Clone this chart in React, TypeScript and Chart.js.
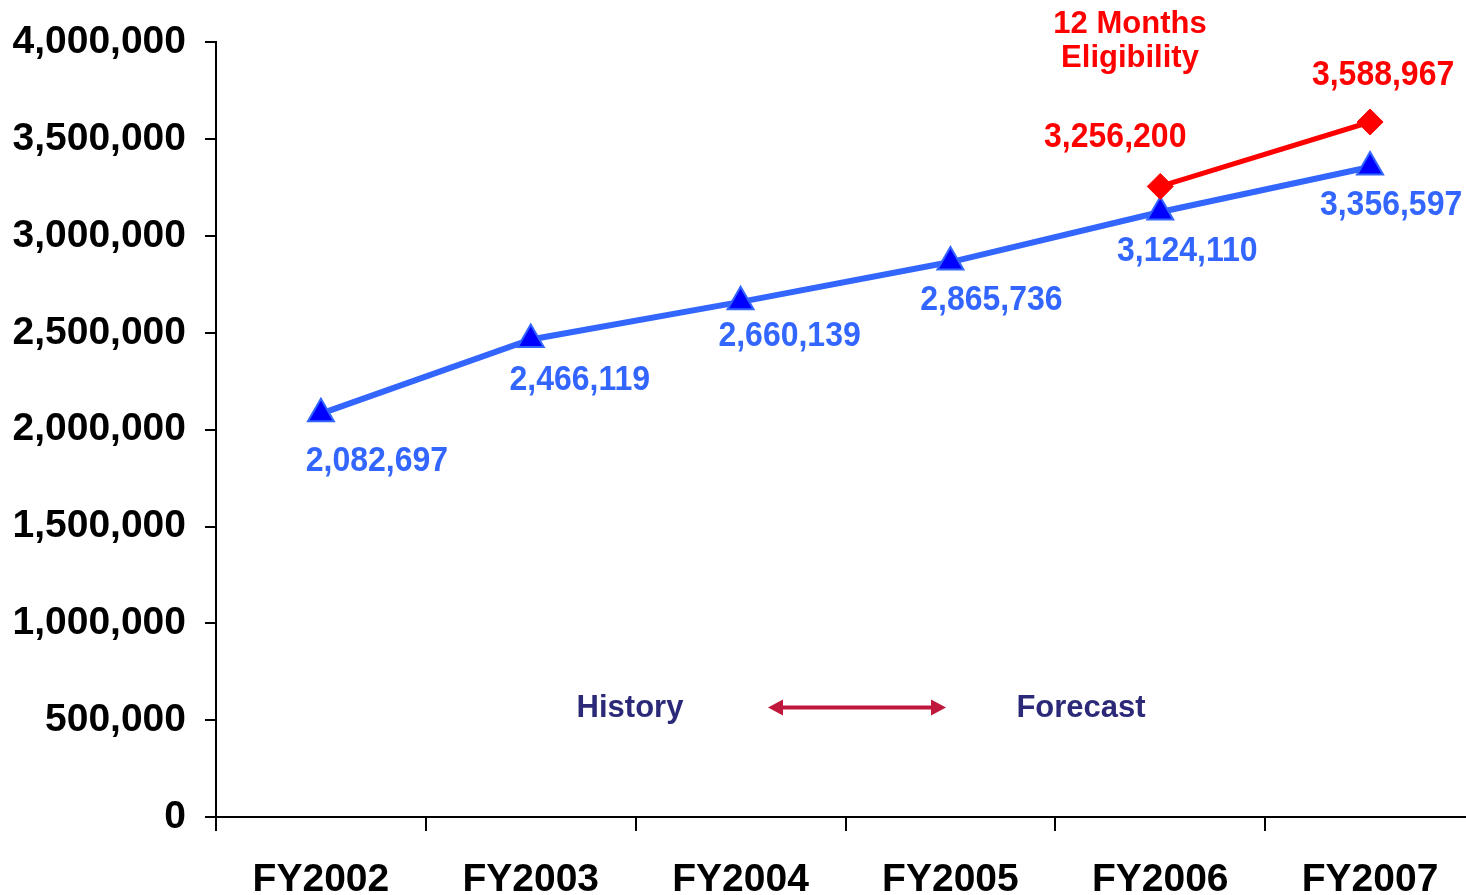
import React, { useEffect, useRef } from "react";
import { Chart, registerables } from "chart.js";

Chart.register(...registerables);

const categories = ["FY2002", "FY2003", "FY2004", "FY2005", "FY2006", "FY2007"];
const currentEligibility = [2082697, 2466119, 2660139, 2865736, 3124110, 3356597];
const twelveMonthEligibility = [null, null, null, null, 3256200, 3588967];
const yMin = 0;
const yMax = 4000000;
const yStep = 500000;

const annotationTitle = ["12 Months", "Eligibility"];
const historyLabel = "History";
const forecastLabel = "Forecast";

// label offsets (style, in pixels relative to each point)
const blueLabelOffsets = [
  [56, 48],
  [49, 41],
  [49, 35],
  [41, 38],
  [27, 39],
  [21, 38],
];
const redLabelOffsets = [
  [0, 0],
  [0, 0],
  [0, 0],
  [0, 0],
  [-45, -49],
  [13, -47],
];

const FONT = "'Liberation Sans', Arial, Helvetica, sans-serif";

const fmt = (v: number) => v.toLocaleString("en-US");

const labelPlugin = {
  id: "pointLabels",
  afterDatasetsDraw(chart: any) {
    const ctx = chart.ctx;
    chart.data.datasets.forEach((ds: any, di: number) => {
      const meta = chart.getDatasetMeta(di);
      const isRed = ds.label === "12 Months";
      const offsets = isRed ? redLabelOffsets : blueLabelOffsets;
      meta.data.forEach((pt: any, i: number) => {
        const v = ds.data[i];
        if (v === null || v === undefined) return;
        const [dx, dy] = offsets[i];
        ctx.save();
        ctx.font = `bold 32px ${FONT}`;
        ctx.textAlign = "center";
        ctx.textBaseline = "middle";
        ctx.fillStyle = isRed ? "#ff0000" : "#3366ff";
        ctx.translate(pt.x + dx, pt.y + dy);
        ctx.scale(1, 1.08);
        ctx.fillText(fmt(v), 0, 0);
        ctx.restore();
      });
    });
  },
};

const annotationPlugin = {
  id: "annotations",
  afterDraw(chart: any) {
    const ctx = chart.ctx;
    const area = chart.chartArea;
    ctx.save();
    ctx.textAlign = "center";
    ctx.textBaseline = "middle";
    ctx.font = `bold 31px ${FONT}`;
    ctx.fillStyle = "#ff0000";
    ctx.fillText(annotationTitle[0], 1130, 24);
    ctx.fillText(annotationTitle[1], 1130, 58);

    ctx.fillStyle = "#2c2a78";
    const y = area.top + 665;
    ctx.fillText(historyLabel, 630, y + 1);
    ctx.fillText(forecastLabel, 1081, y + 1);

    // double arrow
    const x1 = 768;
    const x2 = 946;
    ctx.strokeStyle = "#c0173c";
    ctx.fillStyle = "#c0173c";
    ctx.lineWidth = 4;
    ctx.beginPath();
    ctx.moveTo(x1 + 10, y);
    ctx.lineTo(x2 - 10, y);
    ctx.stroke();
    ctx.beginPath();
    ctx.moveTo(x1, y);
    ctx.lineTo(x1 + 15, y - 8);
    ctx.lineTo(x1 + 15, y + 8);
    ctx.closePath();
    ctx.fill();
    ctx.beginPath();
    ctx.moveTo(x2, y);
    ctx.lineTo(x2 - 15, y - 8);
    ctx.lineTo(x2 - 15, y + 8);
    ctx.closePath();
    ctx.fill();
    ctx.restore();
  },
};

export default function App() {
  const canvasRef = useRef<HTMLCanvasElement | null>(null);

  useEffect(() => {
    const canvas = canvasRef.current;
    if (!canvas) return;
    const chart = new Chart(canvas, {
      type: "line",
      data: {
        labels: categories,
        datasets: [
          {
            label: "12 Months",
            data: twelveMonthEligibility,
            borderColor: "#ff0000",
            backgroundColor: "#ff0000",
            borderWidth: 5,
            pointStyle: "rectRot",
            pointRadius: 13,
            pointBackgroundColor: "#ff0000",
            pointBorderColor: "#ff0000",
            pointBorderWidth: 1,
            spanGaps: false,
            order: 0,
          },
          {
            label: "Current",
            data: currentEligibility,
            borderColor: "#3366ff",
            backgroundColor: "#3366ff",
            borderWidth: 6,
            pointStyle: "triangle",
            pointRadius: 15,
            pointBackgroundColor: "#0000ff",
            pointBorderColor: "#3366ff",
            pointBorderWidth: 2,
            order: 1,
          },
        ],
      },
      options: {
        responsive: false,
        animation: false,
        events: [],
        layout: { padding: { top: 42, left: 0, right: 0, bottom: 0 } },
        plugins: {
          legend: { display: false },
          tooltip: { enabled: false },
          title: { display: false },
        },
        scales: {
          x: {
            type: "category",
            offset: true,
            grid: {
              offset: true,
              drawOnChartArea: false,
              drawTicks: true,
              tickLength: 14,
              color: "#000000",
              lineWidth: 2,
            },
            border: { display: true, color: "#000000", width: 2 },
            ticks: {
              color: "#000000",
              font: { family: FONT, size: 39, weight: "bold" },
              padding: 26,
              maxRotation: 0,
              autoSkip: false,
            },
            afterFit: (scale: any) => {
              scale.height = 78;
            },
          },
          y: {
            min: yMin,
            max: yMax,
            grid: {
              drawOnChartArea: false,
              drawTicks: true,
              tickLength: 11,
              color: "#000000",
              lineWidth: 2,
            },
            border: { display: true, color: "#000000", width: 2 },
            ticks: {
              stepSize: yStep,
              color: "#000000",
              font: { family: FONT, size: 39, weight: "bold" },
              padding: 19,
              callback: (v: any) => fmt(Number(v)),
            },
            afterFit: (scale: any) => {
              scale.width = 216;
            },
          },
        },
      },
      plugins: [labelPlugin, annotationPlugin],
    });
    return () => chart.destroy();
  }, []);

  return (
    <div
      style={{
        position: "absolute",
        left: 0,
        top: 0,
        width: 1466,
        height: 895,
        overflow: "hidden",
        background: "#ffffff",
      }}
    >
      <canvas ref={canvasRef} width={1492} height={895} style={{ width: 1492, height: 895, display: "block" }} />
    </div>
  );
}
